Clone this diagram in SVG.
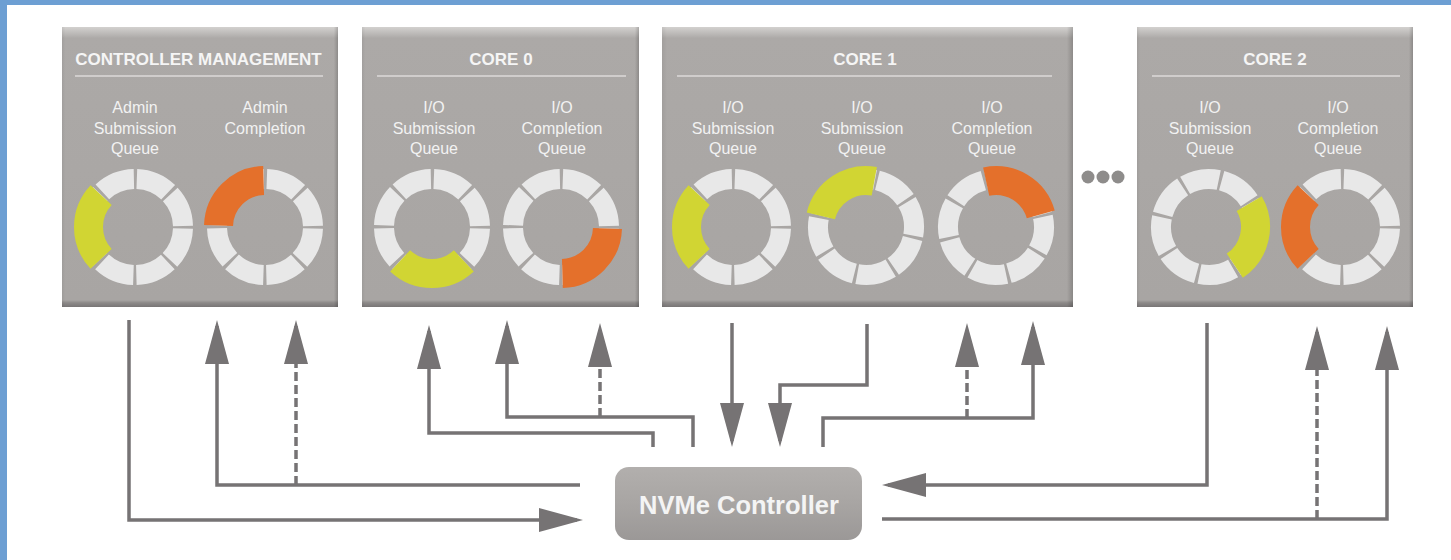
<svg xmlns="http://www.w3.org/2000/svg" width="1451" height="560" viewBox="0 0 1451 560">
<defs>
<style>
.box{fill:url(#boxv)}
.boxr{fill:url(#boxh)}
.ttl{font-family:"Liberation Sans",Arial,sans-serif;font-weight:bold;font-size:17px;fill:#f5f5f5;text-anchor:middle}
.lbl{font-family:"Liberation Sans",Arial,sans-serif;font-size:16px;fill:#f2f2f2;text-anchor:middle}
.rule{stroke:#dcdad8;stroke-width:1.5}
.seg{fill:none;stroke:#e8e8e8;stroke-width:20;stroke-dasharray:34.7 3;stroke-dashoffset:36.2}
.yel{fill:none;stroke:#d1d533;stroke-width:29;stroke-dasharray:0 1.5 70 400}
.org{fill:none;stroke:#e4702b;stroke-width:29;stroke-dasharray:0 1.5 70 400}
.ln{fill:none;stroke:#767374;stroke-width:3.5;marker-end:url(#ah)}
.dash{stroke-dasharray:9 4}
</style>
<linearGradient id="boxv" x1="0" y1="0" x2="0" y2="1">
<stop offset="0" stop-color="#d3d1cf"/>
<stop offset="0.04" stop-color="#aca9a7"/>
<stop offset="0.975" stop-color="#a8a5a3"/>
<stop offset="0.985" stop-color="#8c8988"/>
<stop offset="1" stop-color="#787575"/>
</linearGradient>
<linearGradient id="boxh" x1="0" y1="0" x2="1" y2="0">
<stop offset="0" stop-color="#000" stop-opacity="0.06"/>
<stop offset="0.012" stop-color="#000" stop-opacity="0"/>
<stop offset="0.985" stop-color="#000" stop-opacity="0"/>
<stop offset="1" stop-color="#000" stop-opacity="0.18"/>
</linearGradient>
<linearGradient id="ctl" x1="0" y1="0" x2="0" y2="1">
<stop offset="0" stop-color="#b2afad"/>
<stop offset="0.5" stop-color="#a8a5a3"/>
<stop offset="1" stop-color="#9b9897"/>
</linearGradient>
<marker id="ah" viewBox="0 0 44 24" refX="38" refY="12" markerWidth="44" markerHeight="24" markerUnits="userSpaceOnUse" orient="auto">
<path d="M0,0 L44,12 L0,24 Z" fill="#767374"/>
</marker>
</defs>
<rect x="0" y="0" width="1451" height="560" fill="#ffffff"/>
<rect x="0" y="0" width="1451" height="5" fill="#6d9fd3"/>
<rect x="0" y="0" width="7" height="560" fill="#6d9fd3"/>

<g id="controller-management">
<rect class="box" x="62" y="27" width="276" height="280"/>
<rect class="boxr" x="62" y="27" width="276" height="280"/>
<text class="ttl" x="198.5" y="65">CONTROLLER MANAGEMENT</text>
<line class="rule" x1="75" y1="76" x2="323" y2="76"/>
<text class="lbl" x="135" y="113">Admin</text>
<text class="lbl" x="135" y="133.5">Submission</text>
<text class="lbl" x="135" y="154">Queue</text>
<text class="lbl" x="265" y="113">Admin</text>
<text class="lbl" x="265" y="133.5">Completion</text>
<g transform="translate(135,227)"><circle r="48" class="seg"/><circle r="46.5" class="yel" transform="rotate(135)"/></g>
<g transform="translate(265,227)"><circle r="48" class="seg"/><circle r="46.5" class="org" transform="rotate(180)"/></g>
</g>

<g id="core-0">
<rect class="box" x="362" y="27" width="277" height="280"/>
<rect class="boxr" x="362" y="27" width="277" height="280"/>
<text class="ttl" x="501" y="65">CORE 0</text>
<line class="rule" x1="377" y1="76" x2="626" y2="76"/>
<text class="lbl" x="434" y="113">I/O</text>
<text class="lbl" x="434" y="133.5">Submission</text>
<text class="lbl" x="434" y="154">Queue</text>
<text class="lbl" x="562" y="113">I/O</text>
<text class="lbl" x="562" y="133.5">Completion</text>
<text class="lbl" x="562" y="154">Queue</text>
<g transform="translate(432,227)"><circle r="48" class="seg"/><circle r="46.5" class="yel" transform="rotate(45)"/></g>
<g transform="translate(561,227)"><circle r="48" class="seg"/><circle r="46.5" class="org" transform="rotate(0)"/></g>
</g>

<g id="core-1">
<rect class="box" x="662" y="27" width="411" height="280"/>
<rect class="boxr" x="662" y="27" width="411" height="280"/>
<text class="ttl" x="865" y="65">CORE 1</text>
<line class="rule" x1="677" y1="76" x2="1052" y2="76"/>
<text class="lbl" x="733" y="113">I/O</text>
<text class="lbl" x="733" y="133.5">Submission</text>
<text class="lbl" x="733" y="154">Queue</text>
<text class="lbl" x="862" y="113">I/O</text>
<text class="lbl" x="862" y="133.5">Submission</text>
<text class="lbl" x="862" y="154">Queue</text>
<text class="lbl" x="992" y="113">I/O</text>
<text class="lbl" x="992" y="133.5">Completion</text>
<text class="lbl" x="992" y="154">Queue</text>
<g transform="translate(733,227)"><circle r="48" class="seg"/><circle r="46.5" class="yel" transform="rotate(135)"/></g>
<g transform="translate(866,227)"><circle r="48" class="seg" transform="rotate(-78)"/><circle r="46.5" class="yel" transform="rotate(192)"/></g>
<g transform="translate(996,227)"><circle r="48" class="seg" transform="rotate(-14)"/><circle r="46.5" class="org" transform="rotate(256)"/></g>
</g>

<g id="ellipsis">
<circle cx="1088" cy="177" r="6.5" fill="#8e8c8b"/>
<circle cx="1103" cy="177" r="6.5" fill="#8e8c8b"/>
<circle cx="1118" cy="177" r="6.5" fill="#8e8c8b"/>
</g>

<g id="core-2">
<rect class="box" x="1137" y="27" width="276" height="280"/>
<rect class="boxr" x="1137" y="27" width="276" height="280"/>
<text class="ttl" x="1275" y="65">CORE 2</text>
<line class="rule" x1="1152" y1="76" x2="1400" y2="76"/>
<text class="lbl" x="1210" y="113">I/O</text>
<text class="lbl" x="1210" y="133.5">Submission</text>
<text class="lbl" x="1210" y="154">Queue</text>
<text class="lbl" x="1338" y="113">I/O</text>
<text class="lbl" x="1338" y="133.5">Completion</text>
<text class="lbl" x="1338" y="154">Queue</text>
<g transform="translate(1209,227)"><circle r="48" class="seg" transform="rotate(-32)"/><circle r="46.5" class="yel" transform="rotate(328)"/></g>
<g transform="translate(1342,227)"><circle r="48" class="seg"/><circle r="46.5" class="org" transform="rotate(135)"/></g>
</g>

<g id="nvme-controller">
<rect x="615" y="467" width="247" height="73" rx="14" fill="url(#ctl)"/>
<text x="739" y="514" font-family="'Liberation Sans',Arial,sans-serif" font-weight="bold" font-size="25.5" fill="#f4f4f4" text-anchor="middle">NVMe Controller</text>
</g>

<g id="connectors">
<path class="ln" d="M129,320 V520 H577"/>
<path class="ln" d="M580,485 H217 V326"/>
<path class="ln dash" d="M296,485 V326"/>
<path class="ln" d="M653,447 V433 H429 V331"/>
<path class="ln" d="M693,447 V417 H507 V326"/>
<path class="ln dash" d="M600,417 V329"/>
<path class="ln" d="M732,323 V441"/>
<path class="ln" d="M867,324 V385 H780 V441"/>
<path class="ln" d="M823,447 V418 H1033 V327"/>
<path class="ln dash" d="M967,418 V329"/>
<path class="ln" d="M1207,323 V485 H888"/>
<path class="ln" d="M882,519 H1387 V332"/>
<path class="ln dash" d="M1317,519 V332"/>
</g>
</svg>
